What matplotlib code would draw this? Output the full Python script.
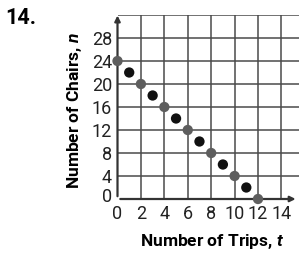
import matplotlib
matplotlib.use("Agg")
import matplotlib.pyplot as plt
from matplotlib.transforms import ScaledTranslation

trips = [0, 1, 2, 3, 4, 5, 6, 7, 8, 9, 10, 11, 12]
chairs = [24, 22, 20, 18, 16, 14, 12, 10, 8, 6, 4, 2, 0]
x_ticks = [0, 2, 4, 6, 8, 10, 12, 14]
y_ticks = [0, 4, 8, 12, 16, 20, 24, 28]

plt.rcParams['font.family'] = ['Roboto', 'DejaVu Sans']
plt.rcParams['mathtext.fontset'] = 'custom'
plt.rcParams['mathtext.it'] = 'Roboto:italic:bold'

fig = plt.figure(figsize=(2.99, 2.54), dpi=100)
ax = fig.add_axes([117.5 / 299, 1 - 199 / 254, (299 - 117.5) / 299, (199 - 15) / 254])
ax.set_xlim(0, 15.5)
ax.set_ylim(0, 32)

for gx in range(2, 16, 2):
    ax.axvline(gx, color="#4a4a4a", lw=1.1, zorder=1)
for gy in range(4, 33, 4):
    ax.axhline(gy, color="#4a4a4a", lw=1.1, zorder=1)

for s in ax.spines.values():
    s.set_visible(False)
ax.annotate("", xy=(15.45, 0), xytext=(0, 0),
            arrowprops=dict(arrowstyle="-|>", color="#333333", lw=1.6, mutation_scale=8),
            annotation_clip=False, zorder=2)
ax.annotate("", xy=(0, 32.4), xytext=(0, 0),
            arrowprops=dict(arrowstyle="-|>", color="#333333", lw=1.6, mutation_scale=8),
            annotation_clip=False, zorder=2)

colors = ["#5e5e5e" if t % 2 == 0 else "#111111" for t in trips]
ax.scatter(trips, chairs, s=55, c=colors, zorder=3, clip_on=False, edgecolors="none")

ax.set_xticks(x_ticks)
ax.set_yticks(y_ticks)
ax.set_xticklabels([str(v) for v in x_ticks], fontsize=13)
ax.set_yticklabels([str(v) for v in y_ticks], fontsize=13)
ax.tick_params(axis="x", length=0, pad=4, colors="#222222")
ax.tick_params(axis="y", length=0, pad=4, colors="#222222")
zero_lab = ax.get_yticklabels()[0]
zero_lab.set_transform(zero_lab.get_transform() + ScaledTranslation(0, 3 / 72, fig.dpi_scale_trans))

ax.set_xlabel("Number of Trips, $\\mathit{t}$", fontsize=12.5, fontweight="bold")
ax.set_ylabel("Number of Chairs, $\\mathit{n}$", fontsize=12.5, fontweight="bold")
ax.xaxis.set_label_coords(0.52, -0.18)
ax.yaxis.set_label_coords(-0.185, 0.48)

fig.text(0.017, 0.972, "14.", fontsize=15.5, fontweight="bold", va="top", ha="left")

fig.savefig("out.png", dpi=100)
